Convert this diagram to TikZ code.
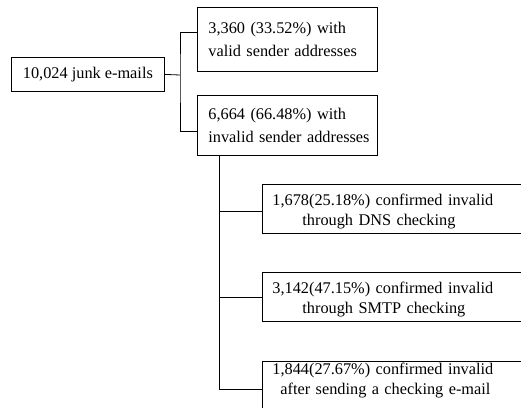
\documentclass[tikz,border=0pt]{standalone}
\usepackage{fontspec}
\setmainfont{Liberation Serif}
\begin{document}
\begin{tikzpicture}[x=1bp,y=1bp,
  box/.style={draw, line width=0.8bp, anchor=north west, inner ysep=0pt, align=left},
  big/.style={font=\fontsize{16.3bp}{23.3bp}\selectfont},
  small/.style={font=\fontsize{16.3bp}{20bp}\selectfont},
  link/.style={line width=0.8bp}]
\useasboundingbox (0,0) rectangle (521,-407);
\clip (0,0) rectangle (521,-407);

% top level split
\node[box, big, align=center, minimum width=153bp, minimum height=34bp, inner xsep=0pt]
  (root) at (11,-57) {10,024 junk e-mails};
\node[box, big, text width=158bp, inner xsep=11bp, minimum height=64bp]
  (valid) at (197,-7) {\mbox{3,360 (33.52\%) with}\\\mbox{valid sender addresses}};
\node[box, big, text width=158bp, inner xsep=11bp, minimum height=60bp]
  (invalid) at (197,-95) {\mbox{6,664 (66.48\%) with}\\\mbox{invalid sender addresses}};

% breakdown of the invalid addresses
\node[box, small, text width=270bp, inner xsep=10bp, minimum height=49bp]
  (dns) at (262,-184) {\rule{0pt}{16bp}1,678(25.18\%) confirmed invalid\\\hspace*{30bp}through DNS checking};
\node[box, small, text width=270bp, inner xsep=10bp, minimum height=49bp]
  (smtp) at (262,-272) {\rule{0pt}{16bp}3,142(47.15\%) confirmed invalid\\\hspace*{30bp}through SMTP checking};
\node[box, small, text width=270bp, inner xsep=10bp, inner ysep=0pt]
  (mail) at (262,-361) {\rule{0pt}{13bp}1,844(27.67\%) confirmed invalid\\\hspace*{8bp}after sending a checking e-mail\\\strut};

% connectors
\coordinate (j1) at (180,-75);
\draw[link] (root.east) -- (j1);
\draw[link] ([yshift=-25bp]valid.north west) -| (j1) |- ([yshift=-36bp]invalid.north west);

\coordinate (j2) at ([xshift=22bp]invalid.south west);
\draw[link] (j2) |- ([yshift=-28bp]mail.north west);
\draw[link] ([yshift=-27bp]dns.north west) -| (j2);
\draw[link] ([yshift=-25bp]smtp.north west) -| (j2);
\end{tikzpicture}
\end{document}
